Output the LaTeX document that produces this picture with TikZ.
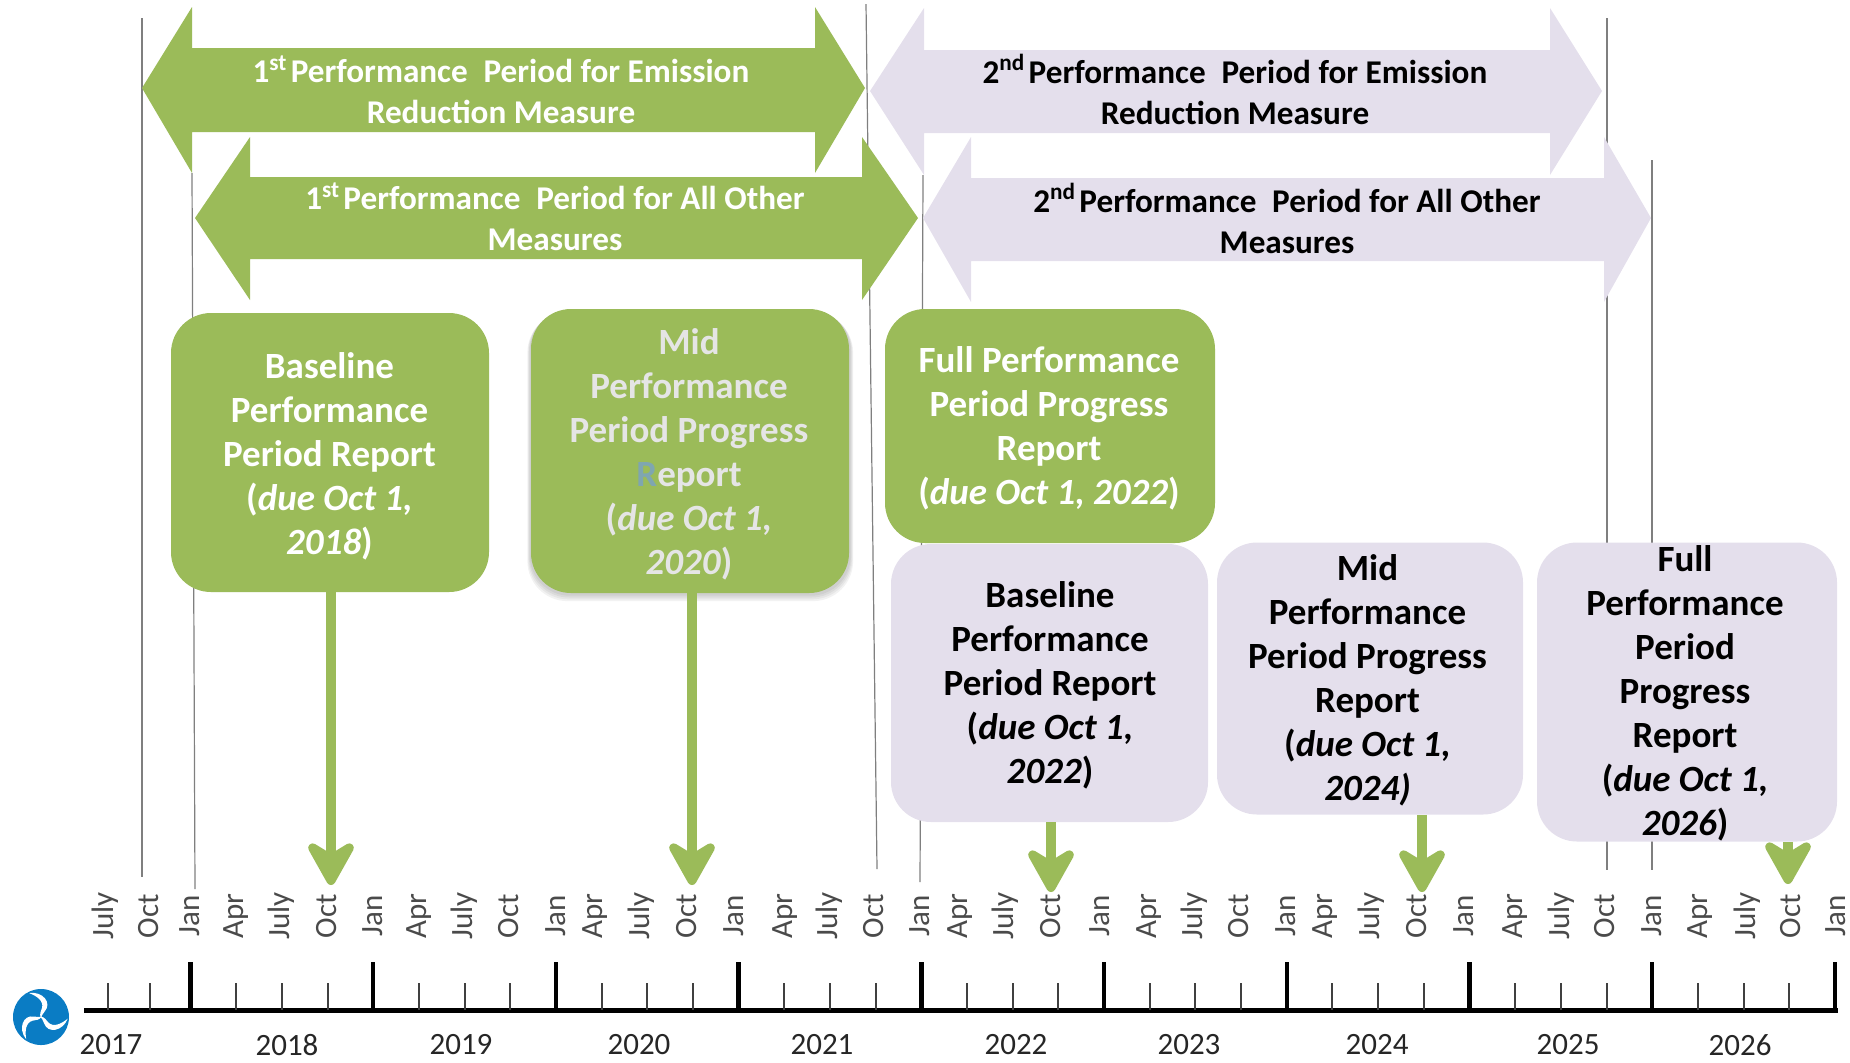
\documentclass[tikz,border=0pt]{standalone}
\usepackage{fontspec}
\setmainfont{Carlito}
\usetikzlibrary{arrows.meta,calc}
\definecolor{grn}{HTML}{9BBB59}
\definecolor{lav}{HTML}{E4DFEC}
\definecolor{vline}{HTML}{7F7F7F}
\definecolor{mon}{HTML}{4A4A4A}
\definecolor{fdot}{HTML}{0A7CC4}
\tikzset{
  x=0.5pt,y=-0.5pt,
  guide/.style={draw=vline,line width=0.6pt},
  bandtxt/.style={align=center,inner sep=0pt,font=\fontsize{16.6}{20.5}\selectfont\bfseries},
  rep/.style={rounded corners=20pt,minimum width=#1,inner sep=0pt},
  grep/.style={rep=#1,fill=grn},
  lrep/.style={rep=#1,fill=lav},
  reptxt/.style={align=center,inner sep=0pt,font=\fontsize{18.5}{22}\selectfont\bfseries},
  due/.style={draw=grn,line width=5.2pt,-{Stealth[length=27pt,width=30pt,inset=9pt,round]}},
  minor/.style={draw=black!75,line width=1pt},
  major/.style={draw=black,line width=2.2pt},
  monl/.style={rotate=90,text=mon,inner sep=0pt,font=\fontsize{15.5}{15.5}\selectfont},
  yearl/.style={text=black!85,inner sep=0pt,font=\fontsize{15.5}{15.5}\selectfont},
}
\begin{document}
\begin{tikzpicture}
\useasboundingbox (0,0) rectangle (1850,1062);
% guide lines
\coordinate (g1a) at (142,18);  \coordinate (g1b) at (142,877);
\coordinate (g2a) at (192,173); \coordinate (g2b) at (195,889);
\coordinate (g3a) at (866,4);   \coordinate (g3b) at (877,869);
\coordinate (g4a) at (923,175); \coordinate (g4b) at (920,882);
\coordinate (g5a) at (1607,18); \coordinate (g5b) at (1607,870);
\coordinate (g6a) at (1652,160);\coordinate (g6b) at (1652,870);
\foreach \g in {1,...,6} \draw[guide] (g\g a) -- (g\g b);
% period arrows
\fill[lav] (870,91)--(924,8)--(924,50)--(1550,50)--(1550,8)--(1602,91)--(1550,175)--(1550,133)--(924,133)--(924,175)--cycle;
\fill[lav] (923,218)--(971,137)--(971,178)--(1604,178)--(1604,137)--(1651,218)--(1604,302)--(1604,261)--(971,261)--(971,302)--cycle;
\fill[grn] (142,88)--(192,7)--(192,48)--(815,48)--(815,7)--(865,88)--(815,173)--(815,132)--(192,132)--(192,173)--cycle;
\fill[grn] (195,218)--(250,137)--(250,177)--(862,177)--(862,137)--(918,218)--(862,300)--(862,259)--(250,259)--(250,300)--cycle;
\node[bandtxt,text=white] (t1) at (501,90) {1\textsuperscript{st}\hspace{0.1em}Performance\hspace{0.25em} Period for Emission\\Reduction Measure};
\node[bandtxt,text=white] (t2) at (555,216.6) {1\textsuperscript{st}\hspace{0.1em}Performance\hspace{0.25em} Period for All Other\\Measures};
\node[bandtxt,text=black] (t3) at (1235,89.6) {2\textsuperscript{nd}\hspace{0.1em}Performance\hspace{0.25em} Period for Emission\\Reduction Measure};
\node[bandtxt,text=black] (t4) at (1287,218.6) {2\textsuperscript{nd}\hspace{0.1em}Performance\hspace{0.25em} Period for All Other\\Measures};
% shadow of mid report box
\foreach \o/\w in {9/6,7/8,5/10,3/12}
  \fill[black,opacity=0.05,rounded corners=20pt] (531-\o*0.4,309+\o*0.4) rectangle (849.5+\o*0.4,593+\o*0.9);
% report boxes
\node[grep=159pt,minimum height=139.5pt] (b1) at (330,452.5) {};
\node[grep=159pt,minimum height=142pt] (b2) at (690,451) {};
\node[grep=165pt,minimum height=117pt] (b3) at (1050,426) {};
\node[lrep=158.5pt,minimum height=139pt] (b4) at (1049.5,683) {};
\node[lrep=153pt,minimum height=136pt] (b5) at (1370,678.5) {};
\node[lrep=150pt,minimum height=149.5pt] (b6) at (1687,692) {};
% report texts
\node[reptxt,text=white] (b1t) at (329.5,456) {Baseline\\Performance\\Period Report\\(\textit{due Oct 1,}\\\textit{2018})};
\node[reptxt,text=white!90!black] (b2t) at (689,454.5) {Mid\\Performance\\Period Progress\\\textcolor[HTML]{7FA6B0}{R}eport\\(\textit{due Oct 1,}\\\textit{2020})};
\node[reptxt,text=white] (b3t) at (1049,428.4) {Full Performance\\Period Progress\\Report\\(\textit{due Oct 1, 2022})};
\node[reptxt,text=black] (b4t) at (1050,685.4) {Baseline\\Performance\\Period Report\\(\textit{due Oct 1,}\\\textit{2022})};
\node[reptxt,text=black] (b5t) at (1367.5,680) {Mid\\Performance\\Period Progress\\Report\\(\textit{due Oct 1,}\\\textit{2024)}};
\node[reptxt,text=black] (b6t) at (1685,693.4) {Full\\Performance\\Period\\Progress\\Report\\(\textit{due Oct 1,}\\\textit{2026})};
% due-date arrows
\coordinate (d1) at (331,885);
\coordinate (d2) at (692,885);
\coordinate (d3) at (1051,892);
\coordinate (d4) at (1422,892);
\coordinate (d5) at (1788,884);
\draw[due] (b1.south -| d1) -- (d1);
\draw[due] (b2.south -| d2) -- (d2);
\draw[due] (b4.south -| d3) -- (d3);
\draw[due] (b5.south -| d4) -- (d4);
\draw[due] (b6.south -| d5) -- (d5);
% timeline
\coordinate (axl) at (84,1010); \coordinate (axr) at (1838,1010);
\draw[draw=black,line width=2.5pt] (axl) -- (axr);
\foreach \x in {107.5,150} \draw[minor] (\x,983) -- (\x,1010);
\foreach \n in {0,...,8} \foreach \q in {1,2,3}
  \draw[minor] ({190.5+182.7*\n+45.7*\q},983) -- ({190.5+182.7*\n+45.7*\q},1010);
\foreach \n in {0,...,9} \draw[major] ({190.5+182.7*\n},962) -- ({190.5+182.7*\n},1010);
% month labels
\foreach \m/\x [count=\i] in {July/105,Oct/149,Jan/190,Apr/236,July/281,Oct/327,Jan/373,Apr/419,July/464,Oct/509,Jan/556,Apr/595,July/641,Oct/687,Jan/734,Apr/785,July/829,Oct/874,Jan/920,Apr/960,July/1005,Oct/1051,Jan/1100,Apr/1149,July/1194,Oct/1239,Jan/1286,Apr/1325,July/1371,Oct/1417,Jan/1464,Apr/1515,July/1561,Oct/1605,Jan/1652,Apr/1700,July/1747,Oct/1791,Jan/1836}
  \node[monl] (m\i) at (\x,916) {\m};
% year labels
\foreach \y/\x in {2017/111,2018/287,2019/461,2020/639,2021/822,2022/1016,2023/1189,2024/1377,2025/1568,2026/1740}
  \node[yearl] (y\y) at (\x,1045) {\y};
% logo
\begin{scope}[shift={(41,1017)}]
\fill[fdot] (0,0) circle[radius=28];
\foreach \a in {0,120,240}
  \fill[white,rotate=\a] (-12,-24) .. controls (2,-26) and (11,-14) .. (4,-6) .. controls (2,-3) and (0,-1) .. (0,1) .. controls (-2,-3) and (0,-6) .. (1,-9) .. controls (3,-16) and (-4,-21) .. cycle;
\end{scope}
\end{tikzpicture}
\end{document}
